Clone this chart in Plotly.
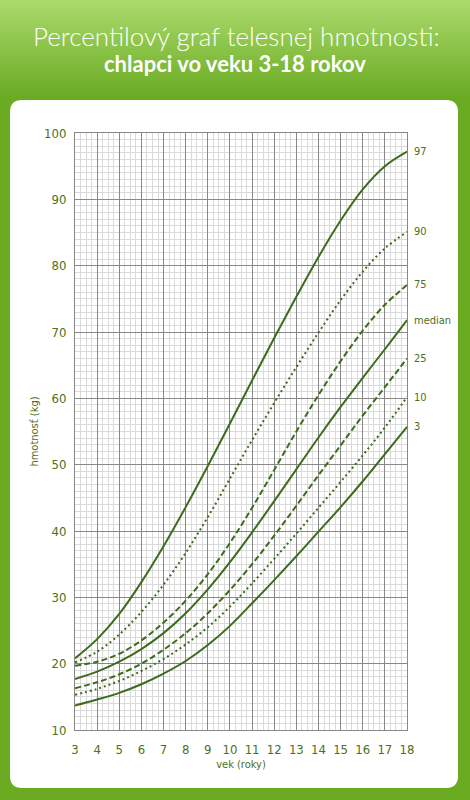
import plotly.graph_objects as go

ages = [3, 4, 5, 6, 7, 8, 9, 10, 11, 12, 13, 14, 15, 16, 17, 18]
p97 = [20.8, 23.7, 27.5, 32.3, 37.7, 43.6, 49.8, 56.2, 62.7, 69.1, 75.3, 81.3, 86.8, 91.5, 95.0, 97.2]
p90 = [20.2, 21.8, 24.4, 27.8, 31.9, 36.7, 42.1, 47.9, 53.7, 59.3, 64.7, 69.9, 74.8, 79.1, 82.6, 85.1]
p75 = [19.7, 20.3, 21.5, 23.5, 26.2, 29.5, 33.5, 38.2, 43.5, 49.2, 55.0, 60.5, 65.6, 70.2, 74.1, 77.1]
p50 = [17.7, 18.8, 20.3, 22.2, 24.6, 27.6, 31.2, 35.3, 39.8, 44.5, 49.3, 54.1, 58.7, 63.1, 67.4, 71.8]
p25 = [16.3, 17.2, 18.4, 20.0, 22.1, 24.6, 27.6, 31.1, 35.0, 39.3, 43.8, 48.4, 52.9, 57.4, 61.7, 66.0]
p10 = [15.3, 16.2, 17.4, 18.9, 20.7, 22.9, 25.5, 28.6, 32.1, 35.8, 39.6, 43.5, 47.4, 51.4, 55.6, 60.2]
p3 = [13.7, 14.6, 15.6, 16.9, 18.5, 20.4, 22.8, 25.7, 29.1, 32.6, 36.2, 39.9, 43.6, 47.5, 51.6, 55.7]

series = [("97", p97, "solid"), ("90", p90, "2px,3px"), ("75", p75, "6px,3px"),
          ("median", p50, "solid"), ("25", p25, "6px,3px"), ("10", p10, "2px,3px"),
          ("3", p3, "solid")]

x_ticks = list(range(3, 19))
y_ticks = list(range(10, 101, 10))

W, H = 470, 800
L, R, T, B = 75, 407, 133, 730
LINE = "#3e6b1c"
TXT = "#4f6e22"
FONT = "DejaVu Sans Condensed, Liberation Sans Narrow, sans-serif"

def px(x):
    return (x - L) / (R - L)

def py(y):
    return (B - y) / (B - T)

fig = go.Figure()
for name, vals, dash in series:
    fig.add_trace(go.Scatter(x=ages, y=vals, mode="lines", name=name,
                             line=dict(color=LINE, width=2, dash=dash, shape="spline", smoothing=1.0),
                             hoverinfo="skip"))

shapes = []
# header gradient
top_c = (170, 218, 108)
bot_c = (106, 171, 34)
n = 25
for i in range(n):
    t = i / (n - 1)
    c = tuple(int(top_c[k] + (bot_c[k] - top_c[k]) * t) for k in range(3))
    y0 = i * 100 / n
    y1 = (i + 1) * 100 / n + 1
    shapes.append(dict(type="rect", xref="paper", yref="paper", layer="below",
                       x0=px(0), x1=px(W), y0=py(y1), y1=py(y0),
                       line=dict(width=0), fillcolor="rgb(%d,%d,%d)" % c))

# white rounded panel
x0, x1, y0, y1, r = 10, 458, 100, 788, 12
def P(x, y):
    return "%f,%f" % (px(x), py(y))
path = ("M " + P(x0 + r, y0) + " L " + P(x1 - r, y0) + " Q " + P(x1, y0) + " " + P(x1, y0 + r) +
        " L " + P(x1, y1 - r) + " Q " + P(x1, y1) + " " + P(x1 - r, y1) +
        " L " + P(x0 + r, y1) + " Q " + P(x0, y1) + " " + P(x0, y1 - r) +
        " L " + P(x0, y0 + r) + " Q " + P(x0, y0) + " " + P(x0 + r, y0) + " Z")
shapes.append(dict(type="path", xref="paper", yref="paper", layer="below", path=path,
                   fillcolor="white", line=dict(width=0)))

annotations = [
    dict(text="Percentilový graf telesnej hmotnosti:", xref="paper", yref="paper",
         x=px(236), y=py(36), showarrow=False, xanchor="center", yanchor="middle",
         font=dict(family="Lato, Open Sans, sans-serif", size=26, color="white", weight=300)),
    dict(text="<b>chlapci vo veku 3-18 rokov</b>", xref="paper", yref="paper",
         x=px(235), y=py(63), showarrow=False, xanchor="center", yanchor="middle",
         font=dict(family="Lato, Open Sans, sans-serif", size=22, color="white")),
]
for name, vals, dash in series:
    annotations.append(dict(text=name, x=ages[-1], y=vals[-1], xref="x", yref="y",
                            showarrow=False, xanchor="left", yanchor="middle", xshift=5,
                            font=dict(family=FONT, size=11, color=TXT)))

fig.update_layout(
    width=W, height=H,
    margin=dict(l=L, r=W - R, t=T, b=H - B, pad=0),
    paper_bgcolor="rgb(106,171,34)",
    plot_bgcolor="white",
    showlegend=False,
    shapes=shapes,
    annotations=annotations,
    xaxis=dict(range=[3, 18], tickvals=x_ticks, ticktext=[str(v) for v in x_ticks],
               showgrid=True, gridcolor="#888888", gridwidth=1,
               minor=dict(dtick=0.25, showgrid=True, gridcolor="#dadada", gridwidth=1),
               zeroline=False, showline=True, linecolor="#888888", linewidth=1, mirror=True,
               ticks="", ticklabelstandoff=7,
               tickfont=dict(family=FONT, size=13, color=TXT),
               title=dict(text="vek (roky)", font=dict(family=FONT, size=11, color=TXT), standoff=4)),
    yaxis=dict(range=[10, 100], tickvals=y_ticks, ticktext=[str(v) for v in y_ticks],
               showgrid=True, gridcolor="#888888", gridwidth=1,
               minor=dict(dtick=1, showgrid=True, gridcolor="#dadada", gridwidth=1),
               zeroline=False, showline=True, linecolor="#888888", linewidth=1, mirror=True,
               ticks="", ticklabelstandoff=5,
               tickfont=dict(family=FONT, size=13, color=TXT),
               title=dict(text="hmotnosť (kg)", font=dict(family=FONT, size=11, color=TXT), standoff=3)),
)

fig.write_html("out.html", config={"displayModeBar": False},
               post_script="document.body.style.margin='0';document.body.style.padding='0';")
